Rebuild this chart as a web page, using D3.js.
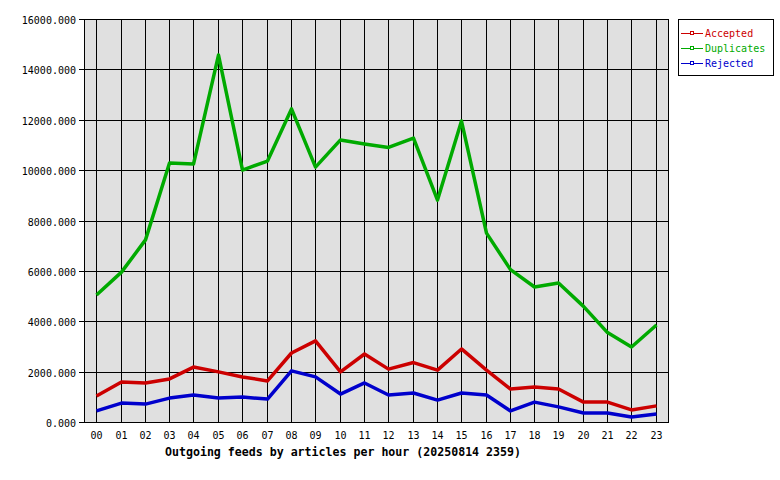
<!DOCTYPE html>
<html>
<head>
<meta charset="utf-8">
<script src="https://cdn.jsdelivr.net/npm/d3@7"></script>
<style>
  body { margin: 0; background: #fff; }
  text { font-family: "DejaVu Sans Mono", monospace; }
</style>
</head>
<body>
<script>
// hours on the x axis
var hours = ["00","01","02","03","04","05","06","07","08","09","10","11",
             "12","13","14","15","16","17","18","19","20","21","22","23"]

// series values
var accepted   = [1030,1590,1550,1710,2180,1990,1790,1630,2740,3220,1990,2700,
                  2100,2360,2060,2900,2060,1310,1390,1310,790,790,480,640]
var duplicates = [5040,5950,7230,10280,10240,14570,10000,10360,12430,10120,11200,11040,
                  10900,11270,8810,11950,7500,6050,5360,5520,4590,3550,2980,3850]
var rejected   = [440,750,710,950,1070,950,990,910,2030,1790,1110,1550,
                  1070,1150,870,1150,1070,440,790,600,360,360,200,320]

var yTicks = [0,2000,4000,6000,8000,10000,12000,14000,16000]
var seriesNames = ["Accepted","Duplicates","Rejected"]
var seriesColors = ["#cc0000","#00aa00","#0000cc"]

var title = "Outgoing feeds by articles per hour (20250814 2359)"

var W = 780, H = 480
var plotL = 84, plotR = 668, plotT = 19, plotB = 422

var svg = d3.select("body").append("svg")
    .attr("width", W)
    .attr("height", H)

var x = d3.scaleBand().domain(hours).range([plotL, plotR])
var y = d3.scaleLinear().domain([0, 16000]).range([plotB, plotT])
var cx = function(h) { return Math.round(x(h) + x.bandwidth() / 2) + 0.5 }
var cy = function(v) { return Math.round(y(v)) + 0.5 }

// plot background
svg.append("rect")
    .attr("x", plotL + 0.5).attr("y", plotT + 0.5)
    .attr("width", plotR - plotL).attr("height", plotB - plotT)
    .attr("fill", "#e0e0e0")

// grid
var grid = svg.append("g").attr("stroke", "#000").attr("stroke-width", 1)
    .attr("shape-rendering", "crispEdges")
grid.selectAll(".hg").data(yTicks).enter().append("line")
    .attr("x1", plotL - 5).attr("x2", plotR)
    .attr("y1", function(d) { return cy(d) }).attr("y2", function(d) { return cy(d) })
grid.selectAll(".vg").data(hours).enter().append("line")
    .attr("x1", function(d) { return cx(d) }).attr("x2", function(d) { return cx(d) })
    .attr("y1", plotT).attr("y2", plotB)

// frame
svg.append("rect")
    .attr("x", plotL + 0.5).attr("y", plotT + 0.5)
    .attr("width", plotR - plotL).attr("height", plotB - plotT)
    .attr("fill", "none").attr("stroke", "#000").attr("shape-rendering", "crispEdges")

// y labels
svg.append("g").selectAll("text").data(yTicks).enter().append("text")
    .attr("x", plotL - 8).attr("y", function(d) { return cy(d) + 4 })
    .attr("text-anchor", "end")
    .attr("font-size", "10px")
    .text(d3.format(".3f"))

// x labels
svg.append("g").selectAll("text").data(hours).enter().append("text")
    .attr("x", function(d) { return cx(d) }).attr("y", plotB + 17)
    .attr("text-anchor", "middle")
    .attr("font-size", "10px")
    .text(function(d) { return d })

// title
svg.append("text")
    .attr("x", 343).attr("y", 456)
    .attr("text-anchor", "middle")
    .attr("font-size", "11.6px")
    .attr("font-weight", "bold")
    .text(title)

// lines
var line = d3.line()
    .x(function(d, i) { return cx(hours[i]) })
    .y(function(d) { return y(d) })

var allSeries = [accepted, duplicates, rejected]
svg.append("g").selectAll("path").data(allSeries).enter().append("path")
    .attr("d", line)
    .attr("fill", "none")
    .attr("stroke", function(d, i) { return seriesColors[i] })
    .attr("stroke-width", 3.5)
    .attr("stroke-linejoin", "round")

// legend
var legend = svg.append("g")
legend.append("rect")
    .attr("x", 678.5).attr("y", 19.5).attr("width", 95).attr("height", 56)
    .attr("fill", "#fff").attr("stroke", "#000").attr("shape-rendering", "crispEdges")

var items = legend.selectAll(".item").data(seriesNames).enter().append("g")
    .attr("transform", function(d, i) { return "translate(0," + (33 + i * 15) + ")" })
items.append("line")
    .attr("x1", 681).attr("x2", 703).attr("y1", 0.5).attr("y2", 0.5)
    .attr("stroke", function(d, i) { return seriesColors[i] })
    .attr("shape-rendering", "crispEdges")
items.append("rect")
    .attr("x", 690.5).attr("y", -1.5).attr("width", 3).attr("height", 3)
    .attr("fill", "#fff")
    .attr("stroke", function(d, i) { return seriesColors[i] })
    .attr("shape-rendering", "crispEdges")
items.append("text")
    .attr("x", 705).attr("y", 4)
    .attr("font-size", "10px")
    .attr("fill", function(d, i) { return seriesColors[i] })
    .text(function(d) { return d })
</script>
</body>
</html>
